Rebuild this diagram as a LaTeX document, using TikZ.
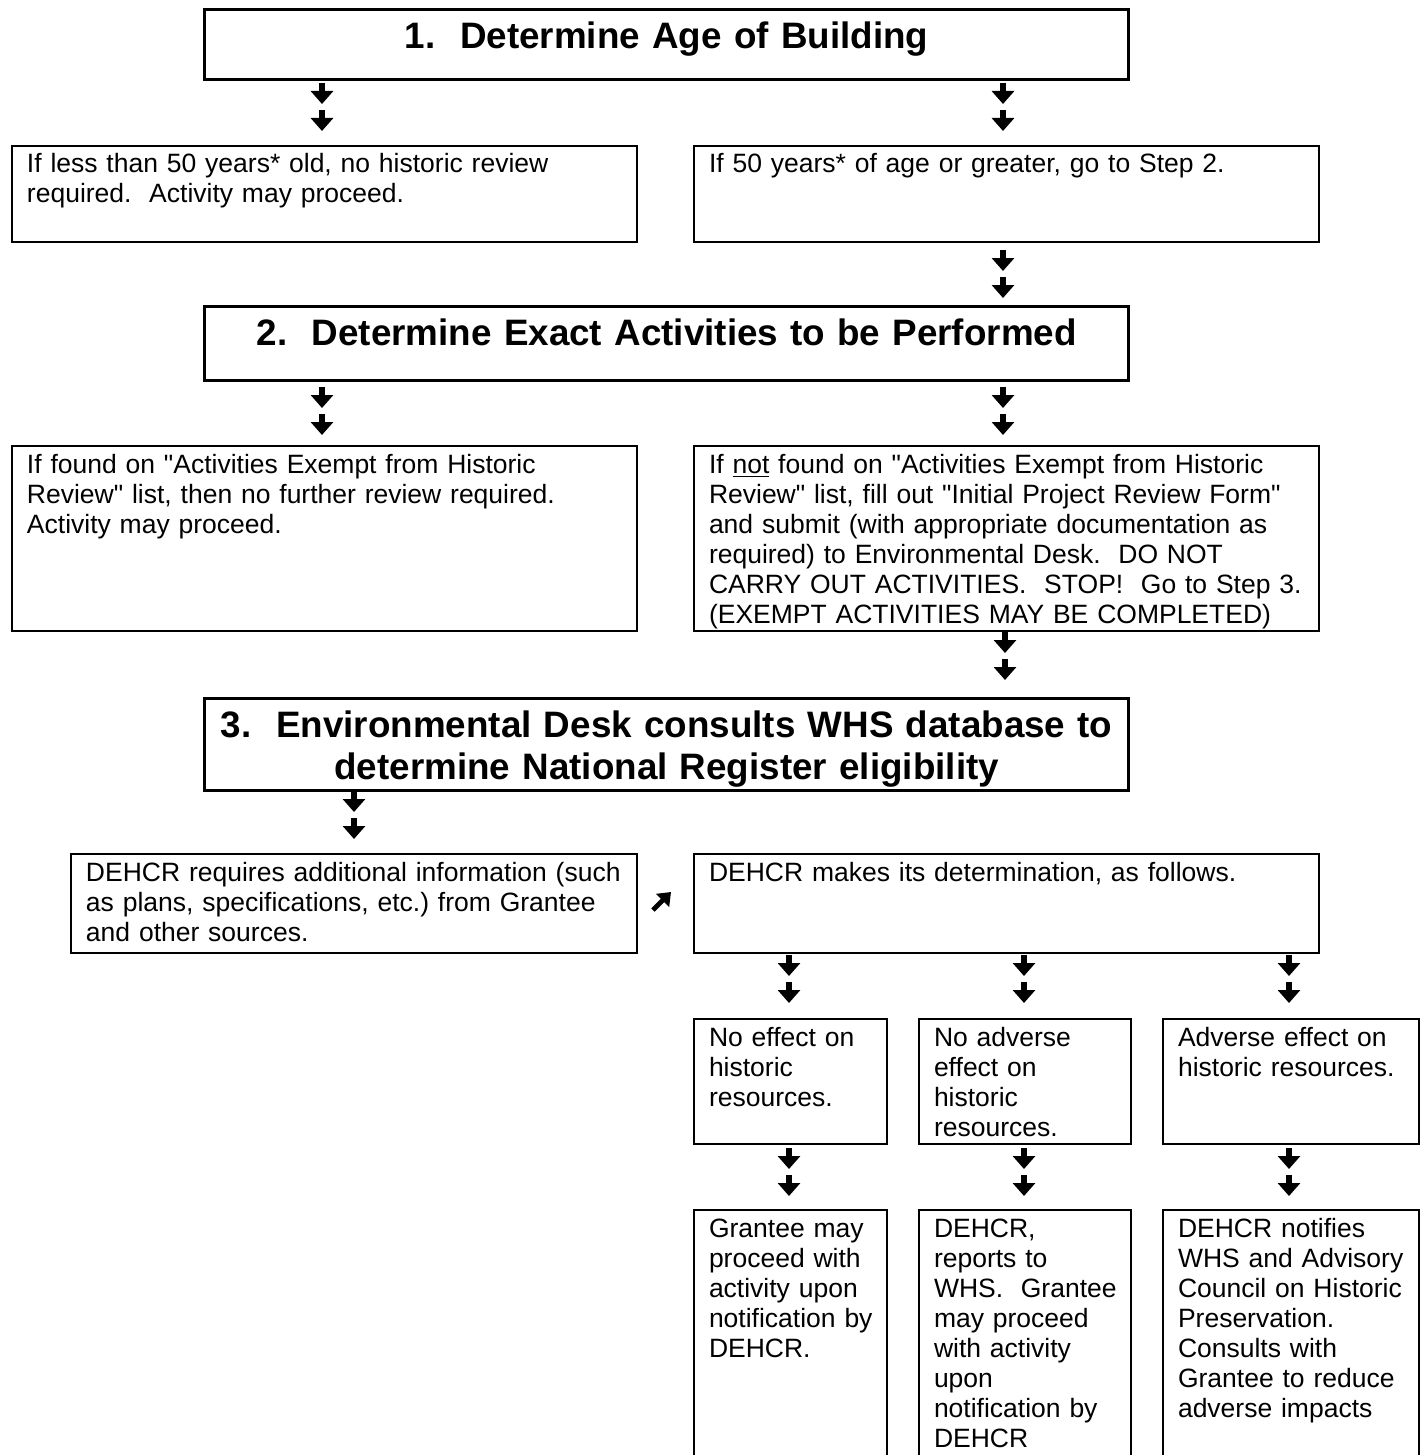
\documentclass[tikz,border=0pt]{standalone}
\usepackage{fontspec}
\setmainfont{Liberation Sans}
\usetikzlibrary{arrows.meta}

\newcommand{\boxfont}{\fontsize{13.25pt}{15pt}\selectfont}
\newcommand{\headfont}{\fontsize{18.4pt}{21pt}\selectfont\bfseries}
\newcommand{\q}{\textquotedbl}

\begin{document}
\begin{tikzpicture}%
  [x=0.5pt, y=-0.5pt,
   >={Triangle[width=11pt,length=6.5pt]},
   infobox/.style={draw, line width=1pt, anchor=north west,
                   inner xsep=2pt, inner ysep=0pt, align=left,
                   font=\boxfont, text height=13.5pt,
                   execute at begin node={\leftskip=5.5pt}},
   headbox/.style={draw, line width=1.7pt, anchor=north west,
                   inner sep=0pt, align=center, font=\headfont,
                   text width=462pt, text height=19.5pt},
   dnarrow/.style={->, line width=2.6pt}
  ]
\useasboundingbox (0,0) rectangle (1421,1455);
\clip (0,0) rectangle (1421,1455);

% step 1
\node[headbox, text depth=15.5pt] (t1) at (203,8)
  {1.\ \ Determine Age of Building};
\node[infobox, text width=308.5pt, text depth=34.5pt] (young) at (11,145)
  {If less than 50 years* old, no historic review\\
   required.\ \ Activity may proceed.};
\node[infobox, text width=308.5pt, text depth=34.5pt] (old) at (693,145)
  {If 50 years* of age or greater, go to Step 2.};

% step 2
\node[headbox, text depth=17.5pt] (t2) at (203,305)
  {2.\ \ Determine Exact Activities to be Performed};
\node[infobox, text width=308.5pt, text depth=79pt] (exempt) at (11,445)
  {If found on \q Activities Exempt from Historic\\
   Review\q\ list, then no further review required.\\
   Activity may proceed.};
\node[infobox, text width=308.5pt, text depth=79pt] (review) at (693,445)
  {If \underline{not} found on \q Activities Exempt from Historic\\
   Review\q\ list, fill out \q Initial Project Review Form\q\\
   and submit (with appropriate documentation as\\
   required) to Environmental Desk.\ \ DO NOT\\
   CARRY OUT ACTIVITIES.\ \ STOP!\ \ Go to Step 3.\\
   (EXEMPT ACTIVITIES MAY BE COMPLETED)};

% step 3
\node[headbox, text depth=26.5pt] (t3) at (203,697)
  {3.\ \ Environmental Desk consults WHS database to\\
   determine National Register eligibility};
\node[infobox, text width=279pt, text depth=36pt] (moreinfo) at (70,853)
  {DEHCR requires additional information (such\\
   as plans, specifications, etc.)\ from Grantee\\
   and other sources.};
\node[infobox, text width=308.5pt, text depth=36pt] (determ) at (693,853)
  {DEHCR makes its determination, as follows.};

% determinations
\node[infobox, text width=92.5pt, text depth=49pt] (noeffect) at (693,1018)
  {No effect on\\ historic\\ resources.};
\node[infobox, text width=102pt, text depth=49pt] (noadverse) at (918,1018)
  {No adverse\\ effect on\\ historic\\ resources.};
\node[infobox, text width=124pt, text depth=49pt] (adverse) at (1162,1018)
  {Adverse effect on\\ historic resources.};

% outcomes
\node[infobox, text width=92.5pt, text depth=122pt] (proceed) at (693,1209)
  {Grantee may\\ proceed with\\ activity upon\\ notification by\\ DEHCR.};
\node[infobox, text width=102pt, text depth=122pt] (reports) at (918,1209)
  {DEHCR,\\ reports to\\ WHS.\ \ Grantee\\ may proceed\\ with activity\\ upon\\
   notification by\\ DEHCR};
\node[infobox, text width=124pt, text depth=122pt] (notifies) at (1162,1209)
  {DEHCR notifies\\ WHS and Advisory\\ Council on Historic\\ Preservation.\\
   Consults with\\ Grantee to reduce\\ adverse impacts};

% double down arrows
\foreach \x/\y [count=\i] in {322/83, 1003/83, 1003/250, 322/387, 1003/387,
                              1005/632, 354/791, 789/955, 1024/955, 1289/955,
                              789/1148, 1024/1148, 1289/1148}
{
  \coordinate (d\i) at (\x,\y);
  \draw[dnarrow] (d\i) -- ++(0,21);
  \draw[dnarrow] ([yshift=-13.5pt]d\i) -- ++(0,21);
}

% back to determination
\coordinate (ne) at (653,910);
\draw[line width=2.4pt, -{Triangle[width=9pt,length=6pt]}] (ne) -- ++(18,-18);
\end{tikzpicture}
\end{document}
